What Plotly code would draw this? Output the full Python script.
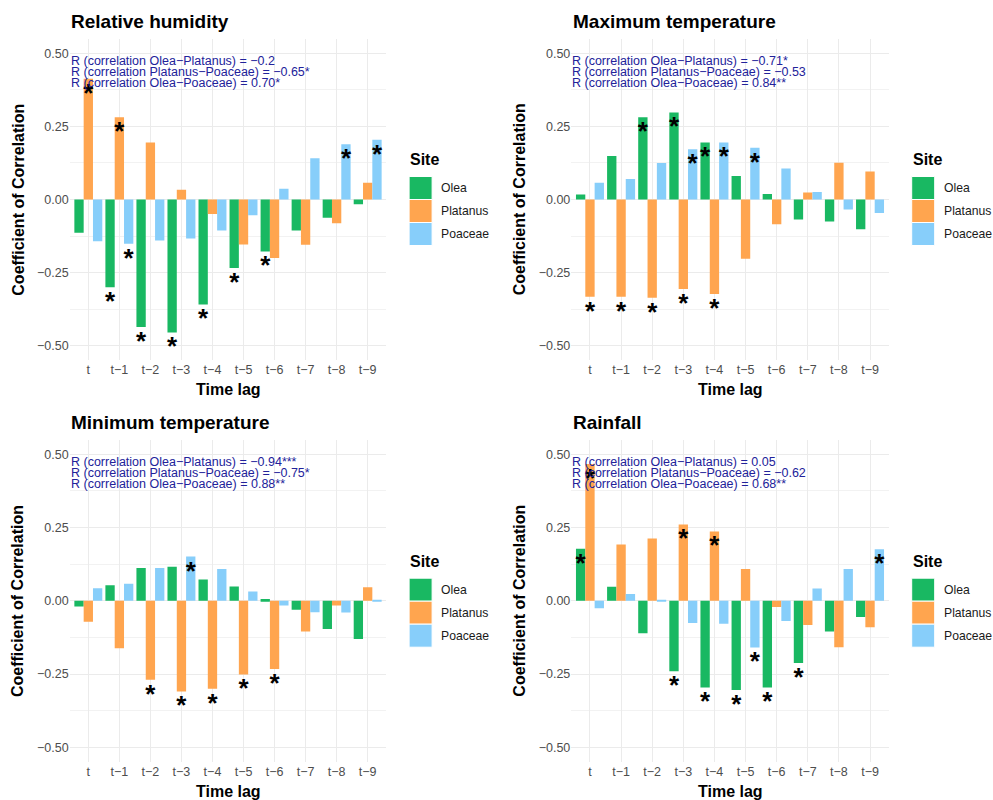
import plotly.graph_objects as go

# Time lags on the x axis
lags = ["t", "t\u22121", "t\u22122", "t\u22123", "t\u22124",
        "t\u22125", "t\u22126", "t\u22127", "t\u22128", "t\u22129"]
sites = ["Olea", "Platanus", "Poaceae"]
site_colors = {"Olea": "#19B862", "Platanus": "#FFA54F", "Poaceae": "#87CEFA"}

# Relative humidity
rh_olea = [-0.114, -0.300, -0.436, -0.455, -0.359, -0.234, -0.178, -0.106, -0.062, -0.016]
rh_platanus = [0.413, 0.281, 0.195, 0.033, -0.050, -0.154, -0.200, -0.155, -0.081, 0.057]
rh_poaceae = [-0.143, -0.151, -0.140, -0.133, -0.106, -0.054, 0.037, 0.141, 0.189, 0.204]
rh_sig = {"Olea": [1, 2, 3, 4, 5, 6], "Platanus": [0, 1], "Poaceae": [1, 8, 9]}
rh_notes = ["R (correlation Olea\u2212Platanus) = \u22120.2",
            "R (correlation Platanus\u2212Poaceae) = \u22120.65*",
            "R (correlation Olea\u2212Poaceae) = 0.70*"]

# Maximum temperature
tmax_olea = [0.017, 0.149, 0.281, 0.298, 0.195, 0.080, 0.019, -0.068, -0.075, -0.102]
tmax_platanus = [-0.333, -0.333, -0.336, -0.306, -0.323, -0.203, -0.085, 0.024, 0.126, 0.096]
tmax_poaceae = [0.057, 0.070, 0.125, 0.172, 0.195, 0.177, 0.106, 0.026, -0.034, -0.046]
tmax_sig = {"Olea": [2, 3, 4], "Platanus": [0, 1, 2, 3, 4], "Poaceae": [3, 4, 5]}
tmax_notes = ["R (correlation Olea\u2212Platanus) = \u22120.71*",
              "R (correlation Platanus\u2212Poaceae) = \u22120.53",
              "R (correlation Olea\u2212Poaceae) = 0.84**"]

# Minimum temperature
tmin_olea = [-0.019, 0.053, 0.112, 0.116, 0.073, 0.049, 0.006, -0.030, -0.096, -0.130]
tmin_platanus = [-0.071, -0.162, -0.269, -0.309, -0.300, -0.251, -0.233, -0.105, -0.016, 0.046]
tmin_poaceae = [0.043, 0.058, 0.112, 0.151, 0.109, 0.032, -0.016, -0.039, -0.040, 0.003]
tmin_sig = {"Olea": [], "Platanus": [2, 3, 4, 5, 6], "Poaceae": [3]}
tmin_notes = ["R (correlation Olea\u2212Platanus) = \u22120.94***",
              "R (correlation Platanus\u2212Poaceae) = \u22120.75*",
              "R (correlation Olea\u2212Poaceae) = 0.88**"]

# Rainfall
rain_olea = [0.178, 0.048, -0.111, -0.240, -0.296, -0.304, -0.296, -0.212, -0.105, -0.055]
rain_platanus = [0.467, 0.192, 0.213, 0.261, 0.237, 0.109, -0.021, -0.082, -0.158, -0.090]
rain_poaceae = [-0.025, 0.023, 0.002, -0.076, -0.078, -0.159, -0.069, 0.042, 0.109, 0.176]
rain_sig = {"Olea": [0, 3, 4, 5, 6, 7], "Platanus": [0, 3, 4], "Poaceae": [5, 9]}
rain_notes = ["R (correlation Olea\u2212Platanus) = 0.05",
              "R (correlation Platanus\u2212Poaceae) = \u22120.62",
              "R (correlation Olea\u2212Poaceae) = 0.68**"]

panels = [
    ("Relative humidity", {"Olea": rh_olea, "Platanus": rh_platanus, "Poaceae": rh_poaceae}, rh_sig, rh_notes),
    ("Maximum temperature", {"Olea": tmax_olea, "Platanus": tmax_platanus, "Poaceae": tmax_poaceae}, tmax_sig, tmax_notes),
    ("Minimum temperature", {"Olea": tmin_olea, "Platanus": tmin_platanus, "Poaceae": tmin_poaceae}, tmin_sig, tmin_notes),
    ("Rainfall", {"Olea": rain_olea, "Platanus": rain_platanus, "Poaceae": rain_poaceae}, rain_sig, rain_notes),
]

W, H = 993, 800
FONT = "Liberation Sans, Arial, sans-serif"


def px_x(p):
    return p / W


def px_y(p):
    return 1 - p / H


# Panel boxes in pixels: (left, right, top, bottom)
boxes = [
    (69.7, 386.3, 38.7, 360.3),
    (571.3, 888.7, 38.7, 360.3),
    (69.7, 386.3, 439.7, 762.0),
    (571.3, 888.7, 439.7, 762.0),
]

BAR_W = 0.3        # width of one dodged bar (0.9 group / 3 sites)
STAR_DROP = 0.056  # asterisk anchor below the bar end

fig = go.Figure()
annotations = []
shapes = []

for i, (title, series, sig, notes) in enumerate(panels):
    n = i + 1
    xa = "x" if n == 1 else f"x{n}"
    ya = "y" if n == 1 else f"y{n}"
    left, right, top, bottom = boxes[i]

    for k, site in enumerate(sites):
        vals = series[site]
        fig.add_trace(go.Bar(
            x=list(range(len(lags))), y=vals, name=site,
            marker=dict(color=site_colors[site], line=dict(width=0)),
            xaxis=xa, yaxis=ya, showlegend=False, hoverinfo="skip",
        ))
        idx = sig[site]
        if idx:
            fig.add_trace(go.Scatter(
                x=[j + (k - 1) * BAR_W for j in idx],
                y=[vals[j] - STAR_DROP for j in idx],
                mode="text", text=["*"] * len(idx), textposition="middle center",
                textfont=dict(family=FONT, size=26, color="black", weight="bold"),
                xaxis=xa, yaxis=ya, showlegend=False, hoverinfo="skip",
            ))

    axis_x = dict(
        domain=[px_x(left), px_x(right)], anchor=ya, range=[-0.6, 9.6],
        tickmode="array", tickvals=list(range(len(lags))), ticktext=lags,
        showgrid=True, gridcolor="#EBEBEB", gridwidth=1.1, zeroline=False,
        showline=False, ticks="", tickfont=dict(family=FONT, size=12.5, color="#4D4D4D"),
        fixedrange=True,
    )
    axis_y = dict(
        domain=[px_y(bottom), px_y(top)], anchor=xa, range=[-0.55, 0.55],
        tickmode="array", tickvals=[-0.5, -0.25, 0, 0.25, 0.5],
        ticktext=["\u22120.50", "\u22120.25", "0.00", "0.25", "0.50"],
        showgrid=True, gridcolor="#EBEBEB", gridwidth=1.1, zeroline=False,
        minor=dict(tickvals=[-0.375, -0.125, 0.125, 0.375], showgrid=True,
                   gridcolor="#F2F2F2", gridwidth=0.6, ticks=""),
        showline=False, ticks="", tickfont=dict(family=FONT, size=12.5, color="#4D4D4D"),
        fixedrange=True,
    )
    fig.layout[("xaxis" if n == 1 else f"xaxis{n}")] = axis_x
    fig.layout[("yaxis" if n == 1 else f"yaxis{n}")] = axis_y

    # Panel title
    annotations.append(dict(
        text=title, xref="paper", yref="paper", x=px_x(left + 0.5), y=px_y(top - 17.5),
        xanchor="left", yanchor="middle", showarrow=False, borderpad=0,
        font=dict(family=FONT, size=19, color="black", weight="bold"),
    ))
    # Axis titles
    annotations.append(dict(
        text="Coefficient of Correlation", xref="paper", yref="paper",
        x=px_x(left - 51.5), y=px_y((top + bottom) / 2), textangle=-90,
        xanchor="center", yanchor="middle", showarrow=False, borderpad=0,
        font=dict(family=FONT, size=16, color="black", weight="bold"),
    ))
    annotations.append(dict(
        text="Time lag", xref="paper", yref="paper",
        x=px_x((left + right) / 2), y=px_y(bottom + 29.5),
        xanchor="center", yanchor="middle", showarrow=False, borderpad=0,
        font=dict(family=FONT, size=16, color="black", weight="bold"),
    ))
    # Correlation notes
    for m, note in enumerate(notes):
        annotations.append(dict(
            text=note, xref=xa, yref=ya, x=-0.6, y=[0.474, 0.436, 0.398][m],
            xanchor="left", yanchor="middle", showarrow=False, borderpad=0,
            font=dict(family=FONT, size=12.5, color="#22229A"),
        ))

    # Site key next to the panel
    kx = right + 22.8 if n % 2 == 1 else right + 23.0
    ky = 160.0 if n <= 2 else 561.7
    annotations.append(dict(
        text="Site", xref="paper", yref="paper", x=px_x(kx), y=px_y(ky),
        xanchor="left", yanchor="middle", showarrow=False, borderpad=0,
        font=dict(family=FONT, size=16, color="black", weight="bold"),
    ))
    for k, site in enumerate(sites):
        y0 = ky + 16.5 + 23 * k
        shapes.append(dict(
            type="rect", xref="paper", yref="paper",
            x0=px_x(kx), x1=px_x(kx + 23), y0=px_y(y0), y1=px_y(y0 + 23),
            fillcolor=site_colors[site], line=dict(color="white", width=1),
        ))
        annotations.append(dict(
            text=site, xref="paper", yref="paper", x=px_x(kx + 31), y=px_y(y0 + 11.5),
            xanchor="left", yanchor="middle", showarrow=False, borderpad=0,
            font=dict(family=FONT, size=12.2, color="#1A1A1A"),
        ))

fig.update_layout(
    width=W, height=H, margin=dict(l=0, r=0, t=0, b=0),
    paper_bgcolor="white", plot_bgcolor="white",
    barmode="group", bargap=0.1, bargroupgap=0,
    annotations=annotations, shapes=shapes, showlegend=False,
    font=dict(family=FONT),
)

fig.write_html("out.html")
